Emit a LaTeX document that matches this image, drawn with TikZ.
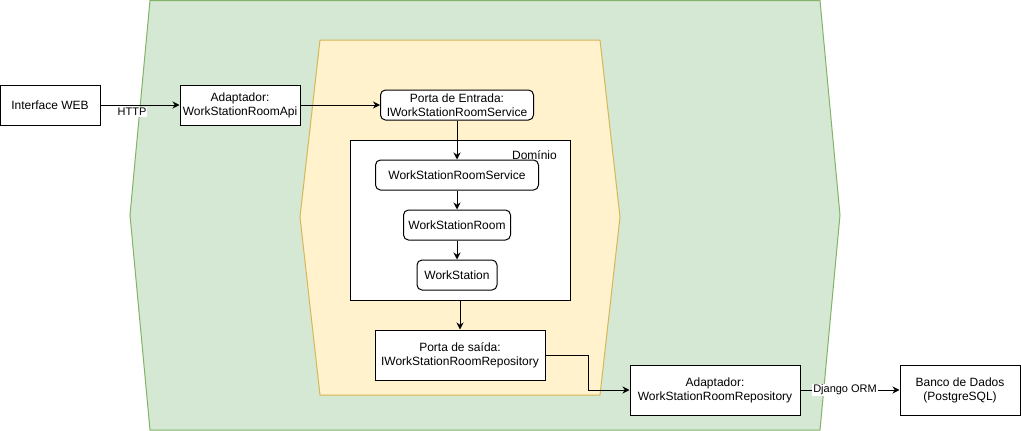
\documentclass[tikz,border=0pt]{standalone}
\usepackage{fontspec}
\setmainfont{Liberation Sans}
\usetikzlibrary{arrows.meta}
\definecolor{gfill}{HTML}{D5E8D4}
\definecolor{gdraw}{HTML}{82B366}
\definecolor{yfill}{HTML}{FFF2CC}
\definecolor{ydraw}{HTML}{D6B656}
\tikzset{
  box/.style={draw=black, fill=white, line width=1pt, align=center, inner sep=0pt, font=\fontsize{12}{14}\selectfont},
  rbox/.style={box, rounded corners=5pt},
  arr/.style={draw=black, line width=1pt, -{Stealth[length=7pt,width=7pt]}},
  lbl/.style={fill=white, inner sep=1pt, font=\fontsize{11}{13}\selectfont},
}
\begin{document}
\begin{tikzpicture}[x=1pt,y=-1pt]
\useasboundingbox (0,0) rectangle (1021,431);
% green outer hexagon
\path[fill=gfill, draw=gdraw, line width=1pt] (150,0.5) -- (820,0.5) -- (840,215) -- (820,430) -- (150,430) -- (130,215) -- cycle;
% yellow inner hexagon
\path[fill=yfill, draw=ydraw, line width=1pt] (320,40) -- (600,40) -- (620,217) -- (600,395) -- (320,395) -- (300,217) -- cycle;
% domain box
\node[box, minimum width=220pt, minimum height=160pt] (dom) at (460,220) {};
\node[anchor=north east, inner sep=0pt, font=\fontsize{12}{14}\selectfont] (domlbl) at (557,150) {Domínio};
% nodes
\node[box, minimum width=100pt, minimum height=40pt] (web) at (50,105) {Interface WEB};
\node[box, minimum width=120pt, minimum height=40pt] (api) at (240,105) {Adaptador:\\WorkStationRoomApi};
\node[rbox, minimum width=153pt, minimum height=30pt] (pe) at (457,105) {Porta de Entrada:\\IWorkStationRoomService};
\node[rbox, minimum width=163pt, minimum height=30pt] (svc) at (457,175) {WorkStationRoomService};
\node[rbox, minimum width=107pt, minimum height=30pt] (room) at (457,225) {WorkStationRoom};
\node[rbox, minimum width=80pt, minimum height=30pt] (ws) at (457,275) {WorkStation};
\node[box, minimum width=170pt, minimum height=50pt] (ps) at (460,355) {Porta de saída:\\IWorkStationRoomRepository};
\node[box, minimum width=170pt, minimum height=50pt] (repo) at (715,390) {Adaptador:\\WorkStationRoomRepository};
\node[box, minimum width=120pt, minimum height=50pt] (db) at (960,390) {Banco de Dados\\(PostgreSQL)};
% connectors
\draw[arr] (web.east) -- (api.west);
\node[lbl] (http) at (132,112) {HTTP};
\draw[arr] (api.east) -- (pe.west);
\draw[arr] (pe.south) -- (svc.north);
\draw[arr] (svc.south) -- (room.north);
\draw[arr] (room.south) -- (ws.north);
\draw[arr] (dom.south) -- (ps.north);
\draw[arr] (ps.east) -- ++(43,0) |- (repo.west);
\draw[arr] (repo.east) -- node[lbl, pos=0.45] (orm) {Django ORM} (db.west);
\end{tikzpicture}
\end{document}
